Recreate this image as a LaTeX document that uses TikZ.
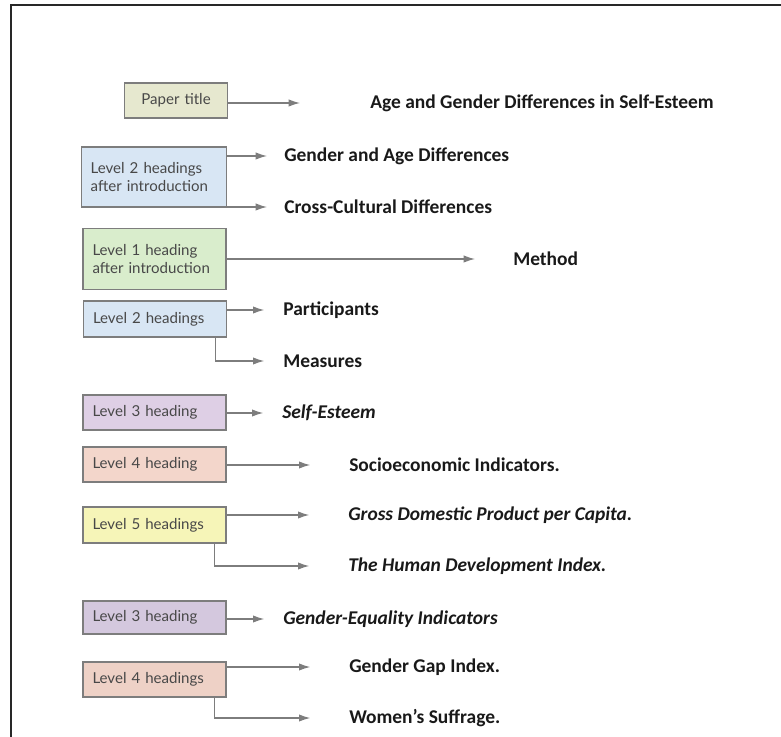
\documentclass[tikz,border=0pt]{standalone}
\usepackage{fontspec}
\setmainfont{Carlito}
\newfontfamily\boxfont{Lato}
\usetikzlibrary{arrows.meta}

\definecolor{framegray}{RGB}{40,40,40}
\definecolor{edgegray}{RGB}{125,125,125}
\definecolor{labelgray}{RGB}{72,72,72}
\definecolor{titlefill}{RGB}{230,232,207}
\definecolor{lvtwofill}{RGB}{216,230,244}
\definecolor{lvonefill}{RGB}{217,237,204}
\definecolor{lvthreefill}{RGB}{222,207,229}
\definecolor{lvthreedark}{RGB}{212,200,222}
\definecolor{lvfourfill}{RGB}{243,214,203}
\definecolor{lvfourdark}{RGB}{238,209,198}
\definecolor{lvfivefill}{RGB}{246,245,184}

\begin{document}
\begin{tikzpicture}[x=0.75pt,y=0.75pt,yscale=-1,xscale=1,
	levelbox/.style={draw=edgegray,line width=1.2pt,inner xsep=7pt,inner ysep=0pt,
		text width=93pt,align=left,minimum width=107pt,minimum height=26pt,
		font=\boxfont\fontsize{11.3pt}{13pt}\selectfont,text=labelgray},
	headtext/.style={anchor=west,inner sep=0pt,font=\bfseries\fontsize{14.6pt}{17pt}\selectfont,text={rgb,255:red,25;green,25;blue,25}},
	italichead/.style={headtext,font=\bfseries\itshape\fontsize{14.6pt}{17pt}\selectfont},
	pointer/.style={draw=edgegray,line width=0.9pt,-{Latex[length=8.5pt,width=5.5pt]}},
	nearhead/.style={pointer,shorten >=14pt},
	farhead/.style={pointer,shorten >=29pt}]
	\useasboundingbox (0,0) rectangle (781,737);

	% frame
	\draw [color=framegray,line width=1.5pt] (781,5) -- (11,5) -- (11,737) ;

	% Text Node
	\node [levelbox,fill=titlefill,text width=63pt,minimum width=77pt,align=center] (paper) at (176,100.5) {Paper title};
	\node [headtext] (papertxt) at (370,103) {Age and Gender Differences in Self-Esteem};
	% Text Node
	\node [levelbox,fill=lvtwofill,minimum height=45pt,text width=95pt,minimum width=109pt] (intro) at (154,177) {Level 2 headings\\after introduction};
	\node [headtext] (gendage) at (284,156) {Gender and Age Differences};
	\node [headtext] (crosscult) at (284,207) {Cross-Cultural Differences};
	% Text Node
	\node [levelbox,fill=lvonefill,minimum height=46pt] (method) at (154.5,259) {Level 1 heading\\after introduction};
	\node [headtext] (methodtxt) at (513,259) {Method};
	% Text Node
	\node [levelbox,fill=lvtwofill,minimum height=27pt] (levtwo) at (155,319) {Level 2 headings};
	\node [headtext] (particip) at (283,310) {Participants};
	\node [headtext] (measures) at (283,361) {Measures};
	% Text Node
	\node [levelbox,fill=lvthreefill] (levthree) at (154.5,412.5) {Level 3 heading};
	\node [italichead] (selfest) at (282,413) {Self-Esteem};
	% Text Node
	\node [levelbox,fill=lvfourfill] (levfour) at (154.5,464.5) {Level 4 heading};
	\node [headtext] (socio) at (349,465) {Socioeconomic Indicators.};
	% Text Node
	\node [levelbox,fill=lvfivefill,minimum height=27pt] (levfive) at (154.5,525) {Level 5 headings};
	\node [italichead] (gdp) at (348,515) {Gross Domestic Product per Capita.};
	\node [italichead] (hdi) at (348,566) {The Human Development Index.};
	% Text Node
	\node [levelbox,fill=lvthreedark,minimum height=25pt] (eqthree) at (154.5,617.5) {Level 3 heading};
	\node [italichead] (equality) at (283,619) {Gender-Equality Indicators};
	% Text Node
	\node [levelbox,fill=lvfourdark] (eqfour) at (154.5,679.5) {Level 4 headings};
	\node [headtext] (gapindex) at (349,667) {Gender Gap Index.};
	\node [headtext] (suffrage) at (349,718) {Women’s Suffrage.};

	% Connection
	\draw [pointer,shorten >=52.5pt] (paper.east |- papertxt.west) -- (papertxt.west) ;
	% Connection
	\draw [pointer,shorten >=12.75pt] (intro.east |- gendage.west) -- (gendage.west) ;
	% Connection
	\draw [pointer,shorten >=12.75pt] (intro.east |- crosscult.west) -- (crosscult.west) ;
	% Connection
	\draw [pointer,shorten >=28.5pt] (method.east |- methodtxt.west) -- (methodtxt.west) ;
	% Connection
	\draw [nearhead] (levtwo.east |- particip.west) -- (particip.west) ;
	% Connection
	\draw [nearhead] ([xshift=-9pt]levtwo.south east) |- (measures.west) ;
	% Connection
	\draw [nearhead] (levthree.east |- selfest.west) -- (selfest.west) ;
	% Connection
	\draw [farhead] (levfour.east |- socio.west) -- (socio.west) ;
	% Connection
	\draw [farhead] (levfive.east |- gdp.west) -- (gdp.west) ;
	% Connection
	\draw [farhead] ([xshift=-9pt]levfive.south east) |- (hdi.west) ;
	% Connection
	\draw [nearhead] (eqthree.east |- equality.west) -- (equality.west) ;
	% Connection
	\draw [farhead] (eqfour.east |- gapindex.west) -- (gapindex.west) ;
	% Connection
	\draw [farhead] ([xshift=-9pt]eqfour.south east) |- (suffrage.west) ;

\end{tikzpicture}
\end{document}
